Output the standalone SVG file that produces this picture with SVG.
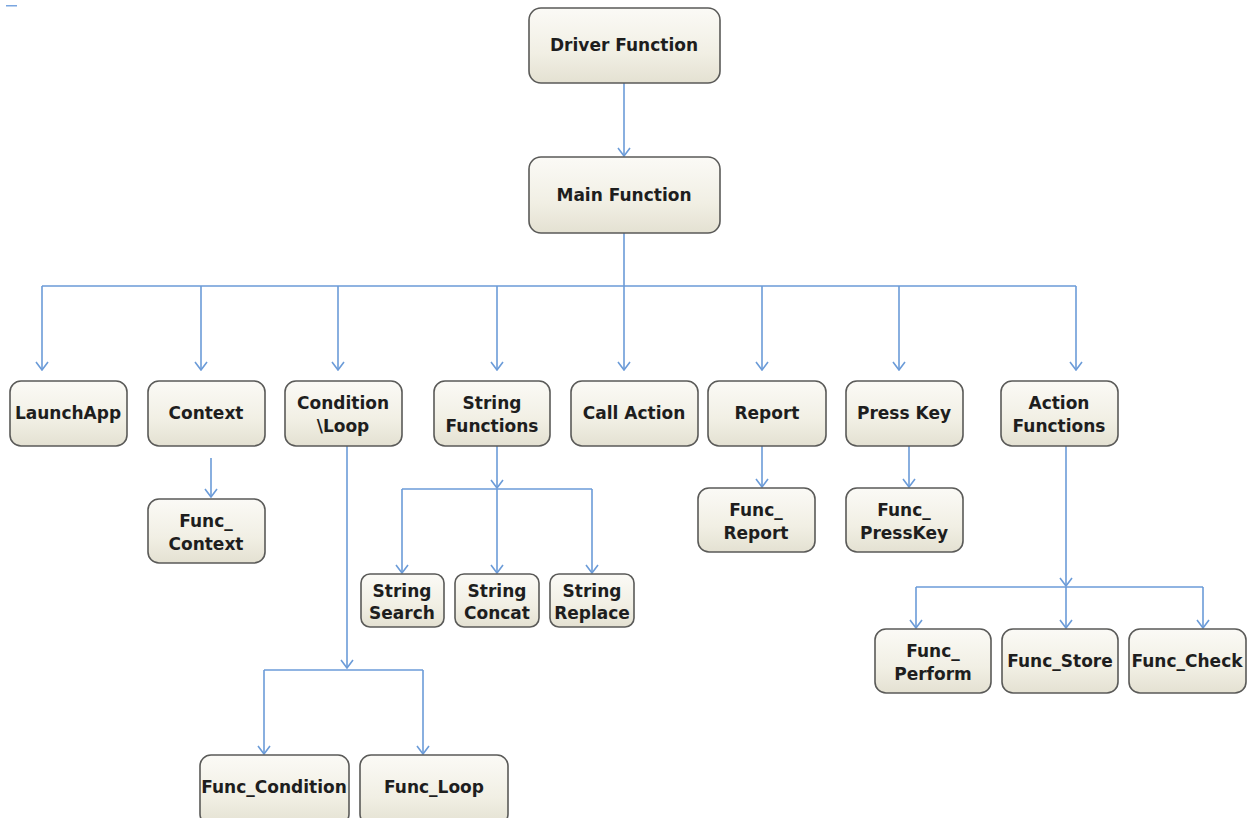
<svg xmlns="http://www.w3.org/2000/svg" width="1260" height="818" viewBox="0 0 1260 818">
<defs>
<linearGradient id="g" x1="0" y1="0" x2="0" y2="1">
<stop offset="0" stop-color="#fbfaf6"/>
<stop offset="0.6" stop-color="#f1efe4"/>
<stop offset="1" stop-color="#e4e1d2"/>
</linearGradient>
<marker id="arr" viewBox="0 0 14 14" refX="13" refY="7" markerWidth="14" markerHeight="14" markerUnits="userSpaceOnUse" orient="auto">
<path d="M5,1 L13,7 L5,13" fill="none" stroke="#6b9bd8" stroke-width="1.6"/>
</marker>
</defs>
<style>
.n rect{fill:url(#g);stroke:#5a5a58;stroke-width:1.6}
.n text{font-family:"DejaVu Sans","Verdana",sans-serif;font-weight:bold;font-size:17px;fill:#1e1e1e;text-anchor:middle}
#connectors path{fill:none;stroke:#6b9bd8;stroke-width:1.6}
.a{marker-end:url(#arr)}
</style>
<rect x="0" y="0" width="1260" height="818" fill="#ffffff"/>
<rect x="6" y="5" width="11" height="1.5" fill="#7aa6e0"/>
<g id="connectors">
<path class="a" d="M624,83 V156"/>
<path d="M624,233 V286 M42,286 H1076"/>
<path class="a" d="M42,286 V370"/>
<path class="a" d="M201,286 V370"/>
<path class="a" d="M338,286 V370"/>
<path class="a" d="M497,286 V370"/>
<path class="a" d="M624,286 V370"/>
<path class="a" d="M762,286 V370"/>
<path class="a" d="M899,286 V370"/>
<path class="a" d="M1076,286 V370"/>
<path class="a" d="M211,458 V497"/>
<path class="a" d="M347,446 V668"/>
<path d="M264,670 H423"/>
<path class="a" d="M264,670 V754"/>
<path class="a" d="M423,670 V754"/>
<path class="a" d="M497,446 V488"/>
<path d="M402,489 H592"/>
<path class="a" d="M402,489 V573"/>
<path class="a" d="M497,489 V573"/>
<path class="a" d="M592,489 V573"/>
<path class="a" d="M762,446 V487"/>
<path class="a" d="M909,446 V487"/>
<path class="a" d="M1066,446 V586"/>
<path d="M916,587 H1203"/>
<path class="a" d="M916,587 V628"/>
<path class="a" d="M1066,587 V628"/>
<path class="a" d="M1203,587 V628"/>
</g>
<g id="driver" class="n"><rect x="529" y="8" width="191" height="75" rx="12"/><text x="624" y="51">Driver Function</text></g>
<g id="main" class="n"><rect x="529" y="157" width="191" height="76" rx="12"/><text x="624" y="201">Main Function</text></g>
<g id="launchapp" class="n"><rect x="10" y="381" width="117" height="65" rx="11"/><text x="68" y="419">LaunchApp</text></g>
<g id="context" class="n"><rect x="148" y="381" width="117" height="65" rx="11"/><text x="206" y="419">Context</text></g>
<g id="condloop" class="n"><rect x="285" y="381" width="117" height="65" rx="11"/><text x="343" y="409">Condition</text><text x="343" y="432">\Loop</text></g>
<g id="stringfunc" class="n"><rect x="434" y="381" width="116" height="65" rx="11"/><text x="492" y="409">String</text><text x="492" y="432">Functions</text></g>
<g id="callaction" class="n"><rect x="571" y="381" width="127" height="65" rx="11"/><text x="634" y="419">Call Action</text></g>
<g id="report" class="n"><rect x="708" y="381" width="118" height="65" rx="11"/><text x="767" y="419">Report</text></g>
<g id="presskey" class="n"><rect x="846" y="381" width="117" height="65" rx="11"/><text x="904" y="419">Press Key</text></g>
<g id="actionfunc" class="n"><rect x="1001" y="381" width="117" height="65" rx="11"/><text x="1059" y="409">Action</text><text x="1059" y="432">Functions</text></g>
<g id="funccontext" class="n"><rect x="148" y="499" width="117" height="64" rx="11"/><text x="206" y="527">Func_</text><text x="206" y="550">Context</text></g>
<g id="funcreport" class="n"><rect x="698" y="488" width="117" height="64" rx="11"/><text x="756" y="516">Func_</text><text x="756" y="539">Report</text></g>
<g id="funcpresskey" class="n"><rect x="846" y="488" width="117" height="64" rx="11"/><text x="904" y="516">Func_</text><text x="904" y="539">PressKey</text></g>
<g id="stringsearch" class="n"><rect x="361" y="574" width="83" height="53" rx="9"/><text x="402" y="597">String</text><text x="402" y="619">Search</text></g>
<g id="stringconcat" class="n"><rect x="455" y="574" width="84" height="53" rx="9"/><text x="497" y="597">String</text><text x="497" y="619">Concat</text></g>
<g id="stringreplace" class="n"><rect x="550" y="574" width="84" height="53" rx="9"/><text x="592" y="597">String</text><text x="592" y="619">Replace</text></g>
<g id="funcperform" class="n"><rect x="875" y="629" width="116" height="64" rx="11"/><text x="933" y="657">Func_</text><text x="933" y="680">Perform</text></g>
<g id="funcstore" class="n"><rect x="1002" y="629" width="116" height="64" rx="11"/><text x="1060" y="667">Func_Store</text></g>
<g id="funccheck" class="n"><rect x="1129" y="629" width="117" height="64" rx="11"/><text x="1187" y="667">Func_Check</text></g>
<g id="funccondition" class="n"><rect x="200" y="755" width="149" height="70" rx="11"/><text x="274" y="793">Func_Condition</text></g>
<g id="funcloop" class="n"><rect x="360" y="755" width="148" height="70" rx="11"/><text x="434" y="793">Func_Loop</text></g>
</svg>
